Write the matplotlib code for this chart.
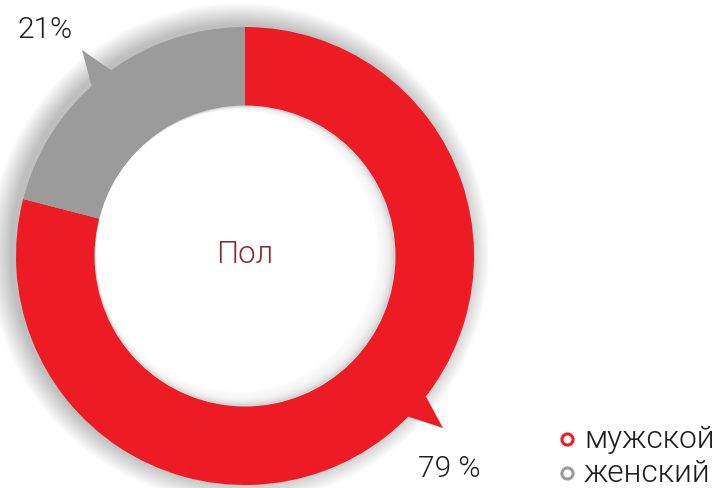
import numpy as np
import matplotlib
matplotlib.use('Agg')
import matplotlib.pyplot as plt
from matplotlib.patches import Circle, Polygon

# data
labels = ['мужской', 'женский']
values = [79, 21]
value_texts = ['79 %', '21%']
colors = ['#ED1C24', '#9B9B9B']
center_label = 'Пол'

W, H = 717, 489
fig = plt.figure(figsize=(W / 100, H / 100), dpi=100)
ax = fig.add_axes([0, 0, 1, 1])

cx, cy = 245, H - 257
r_out, r_in = 229, 150

# soft outer shadow, heavier on the left
for i in range(16):
    ax.add_patch(Circle((cx - 6, cy + 3), r_out + i * 1.4, color='black',
                        alpha=0.016, lw=0, zorder=0))

wedges, _ = ax.pie(values, colors=colors, startangle=90, counterclock=False,
                   radius=r_out, center=(cx, cy), frame=True,
                   wedgeprops=dict(width=r_out - r_in, linewidth=0))
for w in wedges:
    w.set_zorder(2)

# hole with a shaded lower-right edge
ax.add_patch(Circle((cx, cy), r_in + 0.5, color='#d4d4d4', lw=0, zorder=3))
steps = 9
for k in range(steps):
    d = 8 * (k + 1) / steps
    ax.add_patch(Circle((cx - d, cy + d * 0.6), r_in - 1.2 * d, color='white',
                        alpha=0.3, lw=0, zorder=3.1))
ax.add_patch(Circle((cx - 8, cy + 5), r_in - 9, color='white', lw=0, zorder=3.2))

ax.set_xlim(0, W)
ax.set_ylim(0, H)
ax.set_aspect('equal')
ax.axis('off')

# pointer triangles
def pointer(ang_a, ang_b, tip, color):
    a1, a2 = np.deg2rad(ang_a), np.deg2rad(ang_b)
    p1 = (cx + (r_out - 2) * np.cos(a1), cy + (r_out - 2) * np.sin(a1))
    p2 = (cx + (r_out - 2) * np.cos(a2), cy + (r_out - 2) * np.sin(a2))
    ax.add_patch(Polygon([p1, p2, (tip[0], H - tip[1])], closed=True,
                         color=color, lw=0, zorder=2))

pointer(125.6, 132.3, (82, 51), colors[1])
pointer(-37.6, -44.8, (443, 429), colors[0])

font = ['Roboto', 'DejaVu Sans']
wt = 300
ax.text(45.5, H - 30, value_texts[1], fontsize=21.5, family=font, weight=wt,
        color='#1e1e1e', ha='center', va='center', zorder=5)
ax.text(449, H - 469, value_texts[0], fontsize=21.5, family=font, weight=wt,
        color='#1e1e1e', ha='center', va='center', zorder=5)
ax.text(cx, H - 255, center_label, fontsize=22.5, family=font, weight=wt,
        color='#8E2B30', ha='center', va='center', zorder=5)

# legend
for i, (lab, col) in enumerate(zip(labels, colors)):
    y = H - (440 + i * 34)
    ax.plot(567, y, 'o', ms=8, mfc='white', mec=col, mew=2.2, zorder=5)
    ax.text(584, y, lab, fontsize=22.8, family=font, weight=wt,
            color='#1e1e1e', ha='left', va='center', zorder=5)

fig.savefig('out.png', dpi=100)
